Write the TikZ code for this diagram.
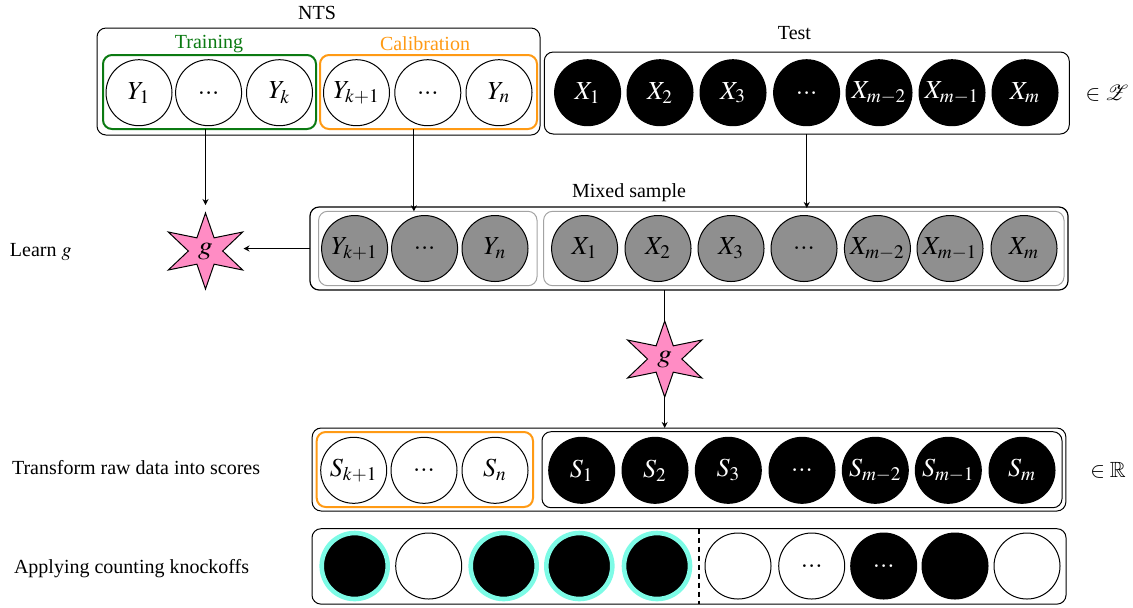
\documentclass[tikz,border=0pt]{standalone}
\usepackage{amsmath,amssymb}
\usepackage{mathptmx}
\usepackage{mathrsfs}
\usepackage[no-math]{fontspec}
\setmainfont{Liberation Serif}
\usepackage{tikz}
\usetikzlibrary{arrows.meta, calc, shapes.geometric}

\definecolor{trainColor}{HTML}{0B7A12}
\definecolor{calibColor}{HTML}{FF9A14}
\definecolor{starColor}{HTML}{FF8CC4}
\definecolor{ringColor}{HTML}{7DFBE6}
\definecolor{innerGray}{HTML}{A3A3A3}
\definecolor{sampleGray}{HTML}{8F8F8F}

\begin{document}
\begin{tikzpicture}[
	x=0.5pt, y=-0.5pt,
	line width=0.5pt,
	every node/.style={font=\fontsize{10}{12}\selectfont, inner sep=0pt, outer sep=0pt},
	arrow/.style={-{Stealth[length=3pt, width=3pt]}, line width=0.5pt},
	rowbox/.style={draw, rectangle, rounded corners=4.5pt},
	subbox/.style={rowbox, line width=1pt},
	datum/.style={draw, circle, minimum size=33pt, font=\fontsize{13}{15}\selectfont},
	plain/.style={datum, fill=white},
	dark/.style={datum, fill=black, text=white},
	mixed/.style={datum, fill=sampleGray},
	picked/.style={datum, fill=black, draw=ringColor, line width=2.3pt, minimum size=33pt},
	gstar/.style={draw, fill=starColor, star, star points=6, star point ratio=2.5, minimum size=38pt, xscale=1.13, transform shape, font=\fontsize{13}{15}\selectfont}
	]
	\useasboundingbox (0,0) rectangle (1133,607);
	
	% === TOP ROW ===
	\node[rowbox, minimum width=221.5pt, minimum height=53.5pt] (nts) at (318.5,81.5) {};
	\node[subbox, draw=trainColor, minimum width=106.5pt, minimum height=37pt] (training) at (209.5,92) {};
	\node[subbox, draw=calibColor, minimum width=108.5pt, minimum height=37pt] (calibration) at (428.5,92) {};
	\node[rowbox, minimum width=262.5pt, minimum height=41pt] (test) at (806.75,93) {};
	
	\node (ntsLabel) at (317,13) {NTS};
	\node[text=trainColor] (trainingLabel) at (209,44) {Training};
	\node[text=calibColor] (calibrationLabel) at (425,44) {Calibration};
	\node (testLabel) at (794.5,33) {Test};
	\node[font=\fontsize{11}{13}\selectfont] (inZ) at (1107,93) {$\in\mathscr{Z}$};
	
	\foreach \name/\x/\labeltext in {y1/139/{Y_1}, y2/208.6/{...}, y3/279.5/{Y_k},
		y4/356.5/{Y_{k+1}}, y5/427.8/{...}, y6/499/{Y_n}} {
		\node[plain] (\name) at (\x,92.7) {$\labeltext$};
	}
	\foreach \name/\x/\labeltext in {x1/587.6/{X_1}, x2/660/{X_2}, x3/733/{X_3}, x4/806.6/{...},
		x5/879/{X_{m-2}}, x6/952/{X_{m-1}}, x7/1025/{X_m}} {
		\node[dark] (\name) at (\x,92.7) {$\labeltext$};
	}
	
	% === MIXED SAMPLE ===
	\node[rowbox, line width=0.6pt, minimum width=379pt, minimum height=41.5pt] (sample) at (689,248.5) {};
	\node[rowbox, draw=innerGray, minimum width=109.2pt, minimum height=37.2pt] (sampleCal) at (427.8,248.5) {};
	\node[rowbox, draw=innerGray, minimum width=260.2pt, minimum height=37.2pt] (sampleTest) at (803.8,248.5) {};
	\node (sampleLabel) at (629,193) {Mixed sample};
	
	\foreach \name/\x/\labeltext in {m1/354.6/{Y_{k+1}}, m2/424.6/{...}, m3/495/{Y_n},
		m4/584.6/{X_1}, m5/658/{X_2}, m6/731/{X_3}, m7/804/{...},
		m8/877.4/{X_{m-2}}, m9/950/{X_{m-1}}, m10/1024/{X_m}} {
		\node[mixed] (\name) at (\x,248.5) {$\labeltext$};
	}
	
	\node[gstar] (gLearn) at (205.5,251) {$g$};
	\node[gstar] (gApply) at (664.7,359) {$g$};
	\node[anchor=west] (learnLabel) at (10,252) {Learn $g$};
	
	% === SCORES ===
	\node[rowbox, minimum width=376.85pt, minimum height=41.5pt] (scores) at (689,469.5) {};
	\node[subbox, draw=calibColor, minimum width=108.15pt, minimum height=37.5pt] (scoresCal) at (424.85,469.5) {};
	\node[rowbox, minimum width=260pt, minimum height=38pt] (scoresTest) at (802,469.7) {};
	\node[anchor=west] (scoresLabel) at (12,468) {Transform raw data into scores};
	\node[font=\fontsize{11}{13}\selectfont] (inR) at (1108,470) {$\in\mathbb{R}$};
	
	\foreach \name/\x/\labeltext in {s1/353.7/{S_{k+1}}, s2/424/{...}, s3/495/{S_n}} {
		\node[plain] (\name) at (\x,470.3) {$\labeltext$};
	}
	\foreach \name/\x/\labeltext in {s4/581.7/{S_1}, s5/655/{S_2}, s6/728.3/{S_3}, s7/802/{...},
		s8/875.3/{S_{m-2}}, s9/948.3/{S_{m-1}}, s10/1022/{S_m}} {
		\node[dark] (\name) at (\x,470.3) {$\labeltext$};
	}
	
	% === KNOCKOFFS ===
	\node[rowbox, minimum width=377pt, minimum height=37.7pt] (knockoffs) at (689,566.4) {};
	\node[anchor=west] (knockoffsLabel) at (14,569) {Applying counting knockoffs};
	
	\foreach \name/\x in {k1/354.7, k3/503.7, k4/579.3, k5/657} {
		\node[picked] (\name) at (\x,566) {};
	}
	\foreach \name/\x/\labeltext in {k2/428.7/{}, k6/738/{}, k7/811.7/{...}, k10/1027/{}} {
		\node[plain] (\name) at (\x,566) {$\labeltext$};
	}
	\foreach \name/\x/\labeltext in {k8/883.7/{...}, k9/955/{}} {
		\node[dark] (\name) at (\x,566) {$\labeltext$};
	}
	\draw[dashed, line width=0.8pt, dash pattern=on 2.5pt off 2pt] (knockoffs.north -| k5.east) ++(9,0) coordinate (cutTop) -- (cutTop |- knockoffs.south);
	
	% === ARROWS ===
	\draw[arrow, shorten >=4pt] (gLearn.north |- training.south) -- (gLearn.north);
	\draw[arrow] ([xshift=-7.3pt]calibration.south) -- ([xshift=-7.3pt]calibration.south |- sampleCal.north);
	\draw[arrow, shorten >=-0.5pt] (test.south) -- (test.south |- sample.north);
	\draw[arrow, shorten >=19pt] (sample.west) -- (sample.west -| gLearn.center);
	\draw (gApply.north |- sample.south) -- (gApply.north);
	\draw[arrow] (gApply.south) -- (gApply.south |- scores.north);
\end{tikzpicture}
\end{document}
